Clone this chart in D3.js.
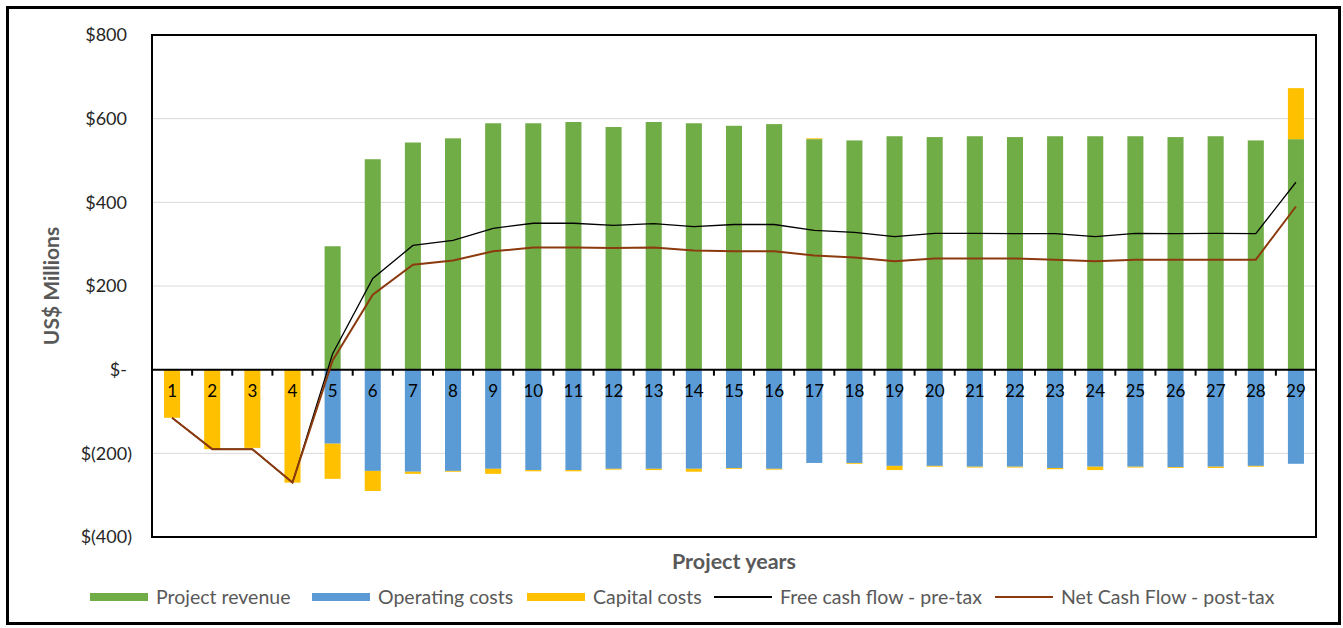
<!DOCTYPE html>
<html>
<head>
<meta charset="utf-8">
<script src="https://cdn.jsdelivr.net/npm/d3@7"></script>
<style>
  body { margin: 0; background: #fff; }
  svg { display: block; font-family: Lato, "Open Sans", sans-serif; }
</style>
</head>
<body>
<script>
// values in US$ millions
const years = d3.range(1, 30).map(String)
const revenue = [0, 0, 0, 0, 295, 503, 543, 553, 589, 589, 592, 580, 592, 589, 583, 587, 551, 548, 558, 556, 558, 556, 558, 558, 558, 556, 558, 548, 551]
const opex = [0, 0, 0, 0, -177, -242, -244, -242, -237, -240, -240, -237, -237, -237, -235, -237, -223, -223, -230, -230, -232, -232, -235, -232, -232, -233, -232, -230, -225]
const capex = [-115, -190, -187, -270, -84, -48, -5, -2, -12, -3, -3, -2, -3, -7, -2, -2, 2, -2, -10, -2, -2, -2, -3, -8, -2, -2, -3, -2, 122]
const freeCash = [-115, -190, -190, -270, 38, 218, 297, 309, 338, 350, 350, 345, 349, 342, 347, 347, 333, 328, 318, 326, 326, 325, 325, 318, 326, 325, 326, 325, 448]
const netCash = [-115, -190, -190, -270, 22, 179, 251, 261, 283, 292, 292, 291, 292, 285, 283, 283, 273, 268, 259, 266, 266, 266, 263, 259, 263, 263, 263, 263, 390]
const yTicks = [800, 600, 400, 200, 0, -200, -400]

const width = 1343
const height = 628
const plot = { left: 152, top: 35, right: 1316, bottom: 537 }

const svg = d3.select('body').append('svg')
    .attr('width', width)
    .attr('height', height)

// outer frame
svg.append('rect')
    .attr('x', 7.5).attr('y', 7.5)
    .attr('width', 1332).attr('height', 616)
    .attr('fill', 'none').attr('stroke', '#000').attr('stroke-width', 3)

const x = d3.scaleBand()
    .domain(years)
    .range([plot.left, plot.right])
    .paddingInner(0.6)
    .paddingOuter(0.3)

const y = d3.scaleLinear()
    .domain([-400, 800])
    .range([plot.bottom, plot.top])

const fmt = v => v === 0 ? '$-' : v < 0 ? `$(${-v})` : `$${v}`

// gridlines
svg.append('g')
    .selectAll('line')
    .data(yTicks.filter(v => v !== 0 && v !== 800 && v !== -400))
    .enter().append('line')
    .attr('x1', plot.left).attr('x2', plot.right)
    .attr('y1', d => y(d)).attr('y2', d => y(d))
    .attr('stroke', '#d9d9d9').attr('stroke-width', 1)

// y axis labels
const yAxis = svg.append('g')
    .attr('transform', `translate(${plot.left - 20},0)`)
    .call(d3.axisLeft(y).tickValues(yTicks).tickFormat(fmt).tickSize(0).tickPadding(0))
yAxis.select('.domain').remove()
yAxis.selectAll('text')
    .attr('font-family', 'Lato, sans-serif')
    .attr('font-size', 18)
    .attr('fill', '#262626')
    .attr('dx', d => d < 0 ? 0 : -5)

// stacked bars
const rows = years.map((yr, i) => {
    const pos = [], neg = []
    let p = 0, n = 0
    ;[['rev', revenue[i]], ['opex', opex[i]], ['cap', capex[i]]].forEach(([k, v]) => {
        if (v >= 0) { pos.push({ k, yr, y0: p, y1: p + v }); p += v }
        else { neg.push({ k, yr, y0: n, y1: n + v }); n += v }
    })
    return pos.concat(neg)
}).flat().filter(d => d.y0 !== d.y1)

const colour = { rev: '#70AD47', opex: '#5B9BD5', cap: '#FFC000' }

svg.append('g')
    .selectAll('rect')
    .data(rows)
    .enter().append('rect')
    .attr('x', d => x(d.yr))
    .attr('width', x.bandwidth())
    .attr('y', d => y(Math.max(d.y0, d.y1)))
    .attr('height', d => Math.abs(y(d.y0) - y(d.y1)))
    .attr('fill', d => colour[d.k])

// x axis at zero with ticks between categories
const zeroY = y(0)
svg.append('line')
    .attr('x1', plot.left).attr('x2', plot.right)
    .attr('y1', zeroY).attr('y2', zeroY)
    .attr('stroke', '#000').attr('stroke-width', 2)

svg.append('g')
    .selectAll('line')
    .data(years.slice(0, -1))
    .enter().append('line')
    .attr('x1', d => x(d) + x.bandwidth() / 2 + x.step() / 2)
    .attr('x2', d => x(d) + x.bandwidth() / 2 + x.step() / 2)
    .attr('y1', zeroY).attr('y2', zeroY + 6)
    .attr('stroke', '#000').attr('stroke-width', 2)

svg.append('g')
    .selectAll('text')
    .data(years)
    .enter().append('text')
    .attr('x', d => x(d) + x.bandwidth() / 2)
    .attr('y', zeroY + 27)
    .attr('text-anchor', 'middle')
    .attr('font-size', 17)
    .attr('fill', '#000')
    .text(d => d)

// lines
const line = d3.line()
    .x((d, i) => x(years[i]) + x.bandwidth() / 2)
    .y(d => y(d))

svg.append('path')
    .datum(freeCash)
    .attr('d', line)
    .attr('fill', 'none').attr('stroke', '#000').attr('stroke-width', 1.3)

svg.append('path')
    .datum(netCash)
    .attr('d', line)
    .attr('fill', 'none').attr('stroke', '#8B3A0E').attr('stroke-width', 2)

// plot border
svg.append('rect')
    .attr('x', plot.left).attr('y', plot.top)
    .attr('width', plot.right - plot.left).attr('height', plot.bottom - plot.top)
    .attr('fill', 'none').attr('stroke', '#000').attr('stroke-width', 2)

// titles
svg.append('text')
    .attr('transform', `translate(59,${(plot.top + plot.bottom) / 2}) rotate(-90)`)
    .attr('text-anchor', 'middle')
    .attr('font-size', 21).attr('font-weight', 'bold')
    .attr('fill', '#595959')
    .text('US$ Millions')

svg.append('text')
    .attr('x', (plot.left + plot.right) / 2)
    .attr('y', 569)
    .attr('text-anchor', 'middle')
    .attr('font-size', 21.5).attr('font-weight', 'bold')
    .attr('fill', '#595959')
    .text('Project years')

// legend
const legendItems = [
    { label: 'Project revenue', type: 'rect', color: '#70AD47', x: 90 },
    { label: 'Operating costs', type: 'rect', color: '#5B9BD5', x: 312 },
    { label: 'Capital costs', type: 'rect', color: '#FFC000', x: 527 },
    { label: 'Free cash flow - pre-tax', type: 'line', color: '#000', x: 714 },
    { label: 'Net Cash Flow - post-tax', type: 'line', color: '#8B3A0E', x: 995 }
]
const legY = 597
const leg = svg.append('g').selectAll('g')
    .data(legendItems)
    .enter().append('g')
    .attr('transform', d => `translate(${d.x},${legY})`)

leg.filter(d => d.type === 'rect').append('rect')
    .attr('x', 0).attr('y', -4).attr('width', 58).attr('height', 8)
    .attr('fill', d => d.color)
leg.filter(d => d.type === 'line').append('line')
    .attr('x1', 0).attr('x2', 58).attr('y1', 0).attr('y2', 0)
    .attr('stroke', d => d.color).attr('stroke-width', 2)
leg.append('text')
    .attr('x', 66).attr('y', 7)
    .attr('font-size', 19.5)
    .attr('fill', '#595959')
    .text(d => d.label)
</script>
</body>
</html>
